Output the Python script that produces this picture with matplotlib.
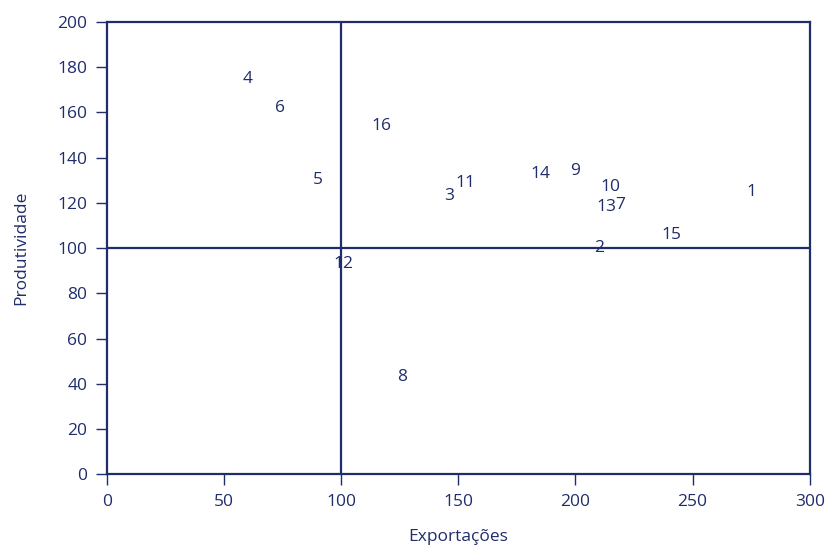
import matplotlib
matplotlib.use("Agg")
import matplotlib.pyplot as plt

# labels and positions of each point (Exportações, Produtividade)
labels = ["1", "2", "3", "4", "5", "6", "7", "8", "9", "10", "11", "12", "13", "14", "15", "16"]
exportacoes = [275, 210, 146, 60, 90, 74, 219, 126, 200, 215, 153, 101, 213, 185, 241, 117]
produtividade = [125, 100, 123, 175, 130, 162, 119, 43, 134, 127, 129, 93, 118, 133, 106, 154]

navy = "#1f2d6b"
plt.rcParams["font.family"] = ["Open Sans", "DejaVu Sans"]

fig = plt.figure(figsize=(8.28, 5.52), dpi=100)
ax = fig.add_axes([0.129, 0.141, 0.849, 0.819])

for lab, x, y in zip(labels, exportacoes, produtividade):
    ax.text(x, y, lab, ha="center", va="center", fontsize=12.5, color=navy)

ax.axvline(100, color=navy, lw=1.6)
ax.axhline(100, color=navy, lw=1.6)

ax.set_xlim(0, 300)
ax.set_ylim(0, 200)
ax.set_xticks(range(0, 301, 50))
ax.set_yticks(range(0, 201, 20))
for s in ax.spines.values():
    s.set_color(navy)
    s.set_linewidth(1.6)
ax.tick_params(colors=navy, labelsize=12.5, length=8, width=1, direction="out", pad=6)
ax.set_xlabel("Exportações", color=navy, fontsize=12.5, labelpad=14)
ax.set_ylabel("Produtividade", color=navy, fontsize=12.5, labelpad=20)

fig.savefig("out.png", dpi=100)
